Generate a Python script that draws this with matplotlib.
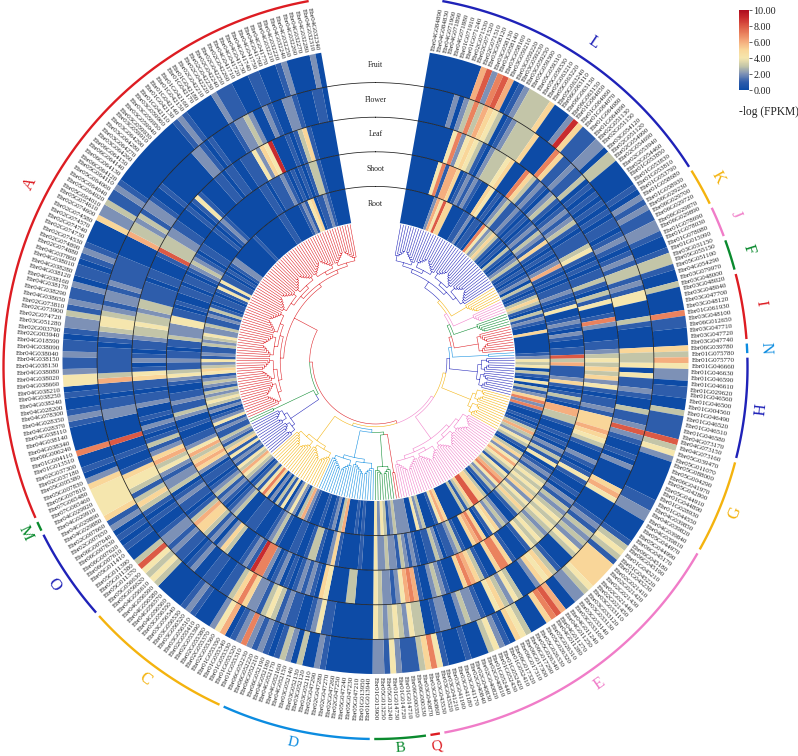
import numpy as np
import matplotlib
matplotlib.use("Agg")
import matplotlib.pyplot as plt
from matplotlib.colors import LinearSegmentedColormap, Normalize
from matplotlib.cm import ScalarMappable

W, H = 798, 756
FONT = "Liberation Serif"

CLADES = ["L", "K", "J", "F", "I", "N", "H", "G", "E", "Q", "B", "D", "C", "O", "M", "A"]
CLADE_SIZES = [44, 6, 5, 5, 10, 2, 15, 14, 46, 2, 8, 22, 22, 14, 2, 96]
RED, BLUE, YELLOW, PINK, GREEN, SKY = "#DD1C22", "#1F22B8", "#F4B30E", "#F07CC8", "#0A8A2E", "#0C8CE0"
CLADE_COLORS = dict(L=BLUE, K=YELLOW, J=PINK, F=GREEN, I=RED, N=SKY, H=BLUE, G=YELLOW,
                    E=PINK, Q=RED, B=GREEN, D=SKY, C=YELLOW, O=BLUE, M=GREEN, A=RED)
TREE = (("A", ("M", "O")),
        (("C", ("D", ("B", "Q"))),
         ("E", ("G", ("H", ("N", ("I", ("F", ("J", ("K", "L")))))))))) 

TISSUES = ["Fruit", "Flower", "Leaf", "Shoot", "Root"]

FRUIT = """000000000 682786 01233335 000 295 11122 0 33 0000 010
2121122100 133100 3000071100 05 364220110031111 83420000000112
2000013431 5555543220 0687500034 5012430001 000147 53 11124122
00000000 12003023101212 7210642000 1210000034 34 83001010215444 44
5201007000 0121001044 2112110122 3121120110 1210000522 3112100000
0000000012 1000002111 0001100012 000020"""
FLOWER = """000000 2023736543 01233335 0000 75 11211 3 01010101
0110121012 133121 4400031000 05 334041121003112 82100102000056
4000012132 3243000135 4520003423 5400122320 022100 33 42343234
00000000 11421001121343 1225753110 0110021011 21 22100101353134 45
1001008000 0221101163 1111101234 4321221211 1110000633 2312210010
0000000221 0100001223 2002100221 000110"""
LEAF = """00000000 472454310 233345 000 753 12102310 1212310
1113410101 131031 4001720001 12 343535241011215 55654310021014
1001021323 4343234341 0001577500 1356750001 232001 67 64212234
0000330000 4501212101 02 1027791210 0035202135 56 31011210322124 36
5213101201 0021101154 1021011233 4332331111 0110001833 3221100010
1410000110 1100111425 4900010135 100000"""
SHOOT = """000000 04716650 1212100 54 01023 11210101 21321510
1012610101 121014 0012102100 11 836111251013106 63310010102131
4012134343 5243531002 3254105765 0013211023 110012 12 31223224
0001000001 5200133100 11 0001321000 1110003210 12 13210110256536 42
1100100231 1211001243 1121101132 2244110100 1101101232 1011000010
1210000000 0000110111 2101010133 100000"""
ROOT = """000000000 264855 0000 112 0110 742353 1010 31012310
1012031013 531031 2100500000 01 243403104031257 27100101363243
1035246431 4367423103 5588531300 0005641000 324002 22 23213424
0001010006 3021001000 12 6302420413 0205741310 23 46341214153123 11
2142102134 3231232145 3241211323 4223112131 0110141411 0101220000
0000100000 0000110000 0121450112 100000"""

GENE_IDS = """
04G084890 04G084830 04G071900 04G071890 04G071880 01G071910 01G071240 02G071530 02G071520 02G071510
03G058120 03G058130 03G058140 03G058160 03G059210 03G059220 03G059230 03G059250 05G059300 05G059310
05G059330 05G063210 05G063220 05G063240 06G063110 06G063130 06G063150 01G064050 01G064060 01G064070
01G064080 01G064090 02G051130 02G051150 03G054120 02G051120 02G054990 02G054690 02G053940 02G054460
01G053850 01G053830 01G053810 01G053790
01G058680 01G058930 06G029230 06G029700 06G029720 06G029870
06G029890 01G078690 01G078030 01G078080 01G015090
03G031150 05G055150 05G051100 04G054290 03G079970
03G048000 03G048020 03G048040 03G047700 03G048120 01G061930 03G048100 06G012650 03G047710 03G047720
03G047740 06G039780
01G075780 01G075770 01G046660 01G046630 01G046590 01G046610 01G029620 01G046560 01G046500 01G004560
01G046490 01G046520 01G046510 01G046580 04G073170
04G073150 04G073160 05G039470 05G011070 05G088000 05G004290 06G041970 05G042800 05G044910 01G044890
01G028930 01G044550 04G039850 04G039820
04G039840 04G039810 05G044970 05G044990 06G045170 06G045180 06G045190 01G045210 01G045220 01G045230
02G021410 02G021420 02G021430 02G021440 02G021450 03G033110 03G033120 03G033130 03G033140 03G033160
04G011240 04G011250 04G011270 04G011280 05G026310 05G026320 05G026330 05G026340 06G017290 06G017300
06G017310 06G017320 01G052410 01G052420 01G052430 01G052440 02G040810 02G040820 02G040830 02G040840
03G041170 03G041180 03G041190 03G041210 03G043520 03G043530
03G040860 03G040870
06G000330 06G000350 01G014710 01G014720 01G014730 05G013240 05G013250 01G013900
01G013940 01G013950 05G047210 05G047230 05G047240 02G047250 02G047260 02G047270 02G047280 02G047290
03G052110 03G052120 03G052130 03G052140 04G052150 04G052160 04G052170 04G052180 06G052190 06G052210
06G052220 06G052230
01G055310 01G055320 01G055330 01G055340 01G055350 02G055360 02G055370 02G055380 02G055390 02G055410
03G056510 03G056520 03G056530 03G056540 03G056550 04G056560 04G056570 04G056580 04G056590 04G056610
05G056620 05G056630
05G011370 05G011380 05G011390 05G011410 06G007610 06G007620 06G007630 06G007640 02G007650 02G007660
04G029880 04G029890 04G029910 04G029920
07G065460 07G065480
05G007810 05G007830 05G005380 02G037180 02G037300 01G013510 01G004110 06G006240 04G038340 04G038140
04G038110 04G028370 04G028350 04G078300 04G028200 04G038240 04G038250 04G038210 04G038660 04G038020
04G038080 04G038130 04G038150 04G038040 04G038090 04G018590 02G003940 02G003790 03G051280 02G074720
02G073900 02G073810 04G038650 04G038290 04G038170 04G038160 04G038120 04G038280 04G038010 04G037860
02G074880 02G074890 02G074530 02G074730 02G074740 02G074570 02G074580 02G074600 05G074610 05G064010
05G064020 05G064040 05G064060 05G064110 06G064120 06G064130 06G064140 06G064150 03G064260 03G064270
03G064280 03G064290 03G059910 03G059930 03G059940 03G059950 03G059960 01G042110 01G042130 01G042140
01G042150 01G042160 01G042170 01G042180 02G042210 02G042220 02G042230 02G042240 02G042250 02G042260
04G041710 04G041720 04G041730 04G041740 04G041750 04G041760 04G041770 04G032210 04G032220 04G032240
04G032250 04G032260 04G032270 04G032280 04G032310 04G032340
"""


def digits(text):
    return np.array([int(c) for c in "".join(text.split())], dtype=float)


rings = [digits(ROOT), digits(SHOOT), digits(LEAF), digits(FLOWER), digits(FRUIT)]
genes = ["Ebr" + g for g in GENE_IDS.split()]
N = sum(CLADE_SIZES)
assert all(len(r) == N for r in rings) and len(genes) == N

CMAP = LinearSegmentedColormap.from_list("fpkm", [
    (0.0, "#0D4BA6"), (0.1, "#2F5DAB"), (0.2, "#7D91B6"), (0.3, "#C4C6A8"), (0.4, "#F5E6AE"),
    (0.5, "#F9D79A"), (0.6, "#F5AE7E"), (0.7, "#EA835F"), (0.8, "#DC5A45"), (0.9, "#C92C2E"),
    (1.0, "#AE0C1E")])
NORM = Normalize(0, 10)

START, SPAN = 10.0, 340.0
STEP_DEG = SPAN / N
STEP = np.radians(STEP_DEG)
R_IN, RING = 140.0, 34.6
R_OUT = R_IN + 5 * RING

plt.rcParams["font.family"] = FONT
fig = plt.figure(figsize=(W / 100, H / 100), dpi=100)


def polar_axes(cx, cy, rmax=440.0):
    ax = fig.add_axes([(cx - rmax) / W, 1 - (cy + rmax) / H, 2 * rmax / W, 2 * rmax / H],
                      projection="polar")
    ax.set_theta_zero_location("N")
    ax.set_theta_direction(-1)
    ax.set_rlim(0, rmax)
    ax.set_axis_off()
    ax.patch.set_visible(False)
    return ax


ax = polar_axes(375.5, 361.0)
# Runs of equal value are one bar each, so no seams show inside a stripe.
for k, ring in enumerate(rings):
    bottom = R_IN + k * RING
    change = np.flatnonzero(np.diff(ring)) + 1
    starts = np.concatenate([[0], change])
    stops = np.concatenate([change, [N]])
    ax.bar(np.radians(START) + starts * STEP, RING, width=(stops - starts) * STEP, bottom=bottom,
           align="edge", color=CMAP(NORM(ring[starts])), linewidth=0, zorder=1)
ax.set_rlim(0, 440)

circle = np.linspace(0, 2 * np.pi, 721)
for k in range(1, 5):
    ax.plot(circle, np.full_like(circle, R_IN + k * RING), color="#1c1c1c", lw=0.55, zorder=2)

for k, name in enumerate(TISSUES):
    ax.text(0, R_OUT - (k + 0.5) * RING, name, ha="center", va="center", fontsize=5.6, color="#222222")

for i, name in enumerate(genes):
    deg = START + (i + 0.5) * STEP_DEG
    right = deg < 180
    ax.text(np.radians(deg), R_OUT + 3, name, fontsize=5.0, color="#222222",
            rotation=(90 - deg) if right else (270 - deg), rotation_mode="anchor",
            ha="left" if right else "right", va="center")

# dendrogram -----------------------------------------------------------------
R_TIP, TIP_NODE, LADDER, SPLIT = R_IN - 1, 113.0, 1.8, 3.5
CHUNK = 6
paths = {}


def gene_theta(i):
    return np.radians(START + (i + 0.5) * STEP_DEG)


def link(color, t_child, r_child, t_node, r_node):
    t, r = paths.setdefault(color, ([], []))
    arc = np.linspace(t_node, t_child, max(2, int(abs(t_child - t_node) / np.radians(1)) + 2))
    t.extend(arc.tolist() + [t_child, np.nan])
    r.extend([r_node] * len(arc) + [r_child, np.nan])


def build(lo, hi, peel, color):
    n = hi - lo
    if n == 1:
        return gene_theta(lo), R_TIP
    if n <= CHUNK:
        if peel == "lo":
            a, b = build(lo, lo + 1, peel, color), build(lo + 1, hi, peel, color)
        else:
            a, b = build(lo, hi - 1, peel, color), build(hi - 1, hi, peel, color)
        r = min(TIP_NODE + LADDER, a[1], b[1]) - LADDER
    else:
        mid = (lo + hi) // 2
        a, b = build(lo, mid, "lo", color), build(mid, hi, "hi", color)
        r = min(a[1], b[1]) - SPLIT
    t = (a[0] + b[0]) / 2
    link(color, a[0], a[1], t, r)
    link(color, b[0], b[1], t, r)
    return t, r


bounds = np.concatenate([[0], np.cumsum(CLADE_SIZES)])
RANGE = {c: (int(bounds[i]), int(bounds[i + 1])) for i, c in enumerate(CLADES)}


def top(node, depth):
    if isinstance(node, str):
        lo, hi = RANGE[node]
        t, r = build(lo, hi, "lo", CLADE_COLORS[node])
        return t, r, CLADE_COLORS[node]
    a, b = top(node[0], depth + 1), top(node[1], depth + 1)
    r = 63.0 + depth * 2.8
    t = (a[0] + b[0]) / 2
    link(a[2], a[0], a[1], t, r)
    link(b[2], b[0], b[1], t, r)
    return t, r, (RED if depth <= 1 else a[2])


top(TREE, 0)
for color, (t, r) in paths.items():
    ax.plot(t, r, color=color, lw=0.38, solid_capstyle="butt", zorder=3)
ax.set_rlim(0, 440)

# clade arcs -----------------------------------------------------------------
arc_ax = polar_axes(375.5, 367.0)
for c in CLADES:
    lo, hi = RANGE[c]
    d0, d1 = START + lo * STEP_DEG + 0.35, START + hi * STEP_DEG - 0.35
    t = np.radians(np.linspace(d0, d1, 80))
    arc_ax.plot(t, np.full_like(t, 372.0), color=CLADE_COLORS[c], lw=1.7, solid_capstyle="butt")
    mid = (d0 + d1) / 2
    upper = mid < 90 or mid > 270
    r_text = 391 if upper else 380 + 8 * min(1.0, abs(mid - 180) / 20)
    arc_ax.text(np.radians(mid), r_text, c, color=CLADE_COLORS[c],
                fontsize=11 if abs(mid - 180) < 15 else 12,
                ha="center", va="center", rotation=(-mid if upper else 180 - mid),
                rotation_mode="anchor")
arc_ax.set_rlim(0, 440)

# colour bar -----------------------------------------------------------------
cax = fig.add_axes([738.7 / W, 1 - 90 / H, 10.6 / W, 80 / H])
cb = fig.colorbar(ScalarMappable(NORM, CMAP), cax=cax, ticks=[0, 2, 4, 6, 8, 10], format="%.2f")
cb.outline.set_visible(False)
cb.ax.tick_params(length=2, width=0.5, pad=1, labelsize=7.2, colors="#222222")
fig.text(739 / W, 1 - 112 / H, "-log (FPKM)", fontsize=8.3, color="#222222", ha="left", va="center")

fig.savefig("out.png", dpi=100)
